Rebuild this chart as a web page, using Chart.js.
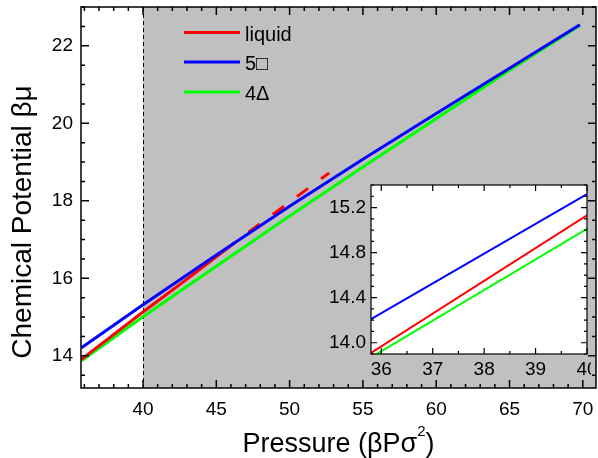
<!DOCTYPE html>
<html>
<head>
<meta charset="utf-8">
<script src="https://cdn.jsdelivr.net/npm/chart.js@4.4.0/dist/chart.umd.min.js"></script>
<style>
  body { margin: 0; background: #fff; }
  #wrap { position: relative; width: 598px; height: 458px; }
  #main { position: absolute; left: 0; top: 0; }
  #inset { position: absolute; left: 321px; top: 178px; }
</style>
</head>
<body>
<div id="wrap">
  <canvas id="main" width="598" height="458"></canvas>
  <canvas id="inset" width="270" height="205"></canvas>
</div>
<script>
// values
const pressure = [35.8, 40, 45, 50, 55, 60, 65, 69.8];
const mu5 = [14.21, 15.32, 16.6, 17.86, 19.07, 20.25, 21.42, 22.54];
const mu4 = [13.87, 15.01, 16.31, 17.61, 18.87, 20.12, 21.37, 22.52];
const liquidP = [35.8, 40, 43, 46.3];
const liquidMu = [13.91, 15.13, 15.98, 16.93];
const liquidDashP = [47.2, 52.7];
const liquidDashMu = [17.19, 18.72];

const xTicks = [40, 45, 50, 55, 60, 65, 70];
const yTicks = [14, 16, 18, 20, 22];
const insetXTicks = [36, 37, 38, 39, 40];
const insetYTicks = [14.0, 14.4, 14.8, 15.2];

const FONT = "'Liberation Sans', Arial, sans-serif";
const pts = (xs, ys) => xs.map((x, i) => ({ x: x, y: ys[i] }));

function range(a, b, step) {
  const out = [];
  for (let v = a; v <= b + 1e-9; v += step) out.push(Math.round(v * 1000) / 1000);
  return out;
}

function noPad(s) {
  s.paddingTop = 0; s.paddingBottom = 0; s.paddingLeft = 0; s.paddingRight = 0;
}

// inward ticks on all four sides plus the box
function tickFrame(xMajor, xMinor, yMajor, yMinor, majLen, minLen, lw) {
  return {
    id: "tickFrame",
    afterDatasetsDraw(chart) {
      const { ctx, chartArea: a, scales: { x, y } } = chart;
      ctx.save();
      ctx.strokeStyle = "#000";
      ctx.lineWidth = lw;
      ctx.beginPath();
      const xt = (vals, len) => vals.forEach(v => {
        const px = x.getPixelForValue(v);
        if (px < a.left - 0.5 || px > a.right + 0.5) return;
        ctx.moveTo(px, a.bottom); ctx.lineTo(px, a.bottom - len);
        ctx.moveTo(px, a.top); ctx.lineTo(px, a.top + len);
      });
      const yt = (vals, len) => vals.forEach(v => {
        const py = y.getPixelForValue(v);
        if (py < a.top - 0.5 || py > a.bottom + 0.5) return;
        ctx.moveTo(a.left, py); ctx.lineTo(a.left + len, py);
        ctx.moveTo(a.right, py); ctx.lineTo(a.right - len, py);
      });
      xt(xMinor, minLen); xt(xMajor, majLen);
      yt(yMinor, minLen); yt(yMajor, majLen);
      ctx.stroke();
      ctx.strokeRect(a.left, a.top, a.right - a.left, a.bottom - a.top);
      ctx.restore();
    }
  };
}

const shade = {
  id: "shade",
  beforeDatasetsDraw(chart) {
    const { ctx, chartArea: a, scales: { x } } = chart;
    const x40 = x.getPixelForValue(40);
    ctx.save();
    ctx.fillStyle = "#c0c0c0";
    ctx.fillRect(x40, a.top, a.right - x40, a.bottom - a.top);
    ctx.strokeStyle = "#000";
    ctx.lineWidth = 1;
    ctx.setLineDash([4, 3]);
    ctx.beginPath();
    ctx.moveTo(x40 + 0.5, a.top);
    ctx.lineTo(x40 + 0.5, a.bottom);
    ctx.stroke();
    ctx.restore();
  }
};

const legendAndTitles = {
  id: "legendAndTitles",
  afterDraw(chart) {
    const { ctx, chartArea: a } = chart;
    ctx.save();
    // legend
    const items = [["liquid", "#ff0000", 32.5, 40.5], ["5\u25A1", "#0000ff", 62, 70], ["4\u0394", "#00ff00", 92, 100]];
    ctx.font = "20px " + FONT;
    ctx.fillStyle = "#000";
    items.forEach(([txt, col, ly, by]) => {
      ctx.strokeStyle = col;
      ctx.lineWidth = 3;
      ctx.beginPath();
      ctx.moveTo(184, ly); ctx.lineTo(240, ly);
      ctx.stroke();
      ctx.fillText(txt, 245, by);
    });
    // x title with superscript
    const big = "27px " + FONT, small = "15px " + FONT;
    ctx.font = big;
    const p1 = "Pressure (\u03B2P\u03C3", p3 = ")";
    const w1 = ctx.measureText(p1).width, w3 = ctx.measureText(p3).width;
    ctx.font = small;
    const w2 = ctx.measureText("2").width;
    let sx = (a.left + a.right) / 2 - (w1 + w2 + w3) / 2;
    const by = 452;
    ctx.font = big; ctx.fillText(p1, sx, by);
    ctx.font = small; ctx.fillText("2", sx + w1, by - 16);
    ctx.font = big; ctx.fillText(p3, sx + w1 + w2, by);
    // y title
    ctx.translate(31, 222);
    ctx.rotate(-Math.PI / 2);
    ctx.font = "28px " + FONT;
    ctx.textAlign = "center";
    ctx.fillText("Chemical Potential \u03B2\u03BC", 0, 0);
    ctx.restore();
  }
};

new Chart(document.getElementById("main"), {
  type: "line",
  data: {
    datasets: [
      { label: "liquid", data: pts(liquidP, liquidMu), borderColor: "#ff0000", borderWidth: 3, pointRadius: 0, order: 1 },
      { label: "liquid (dashed)", data: pts(liquidDashP, liquidDashMu), borderColor: "#ff0000", borderWidth: 3, borderDash: [14, 16], pointRadius: 0, order: 1 },
      { label: "5\u25A1", data: pts(pressure, mu5), borderColor: "#0000ff", borderWidth: 3, pointRadius: 0, order: 0 },
      { label: "4\u0394", data: pts(pressure, mu4), borderColor: "#00ff00", borderWidth: 3, pointRadius: 0, order: 2 }
    ]
  },
  options: {
    responsive: false,
    animation: false,
    layout: { padding: { top: 7, right: 2, left: 0, bottom: 0 } },
    plugins: { legend: { display: false }, tooltip: { enabled: false } },
    scales: {
      x: {
        type: "linear", min: 35.77, max: 70.9,
        grid: { display: false, drawTicks: false },
        border: { display: false },
        afterBuildTicks(s) { s.ticks = xTicks.map(v => ({ value: v })); },
        afterFit(s) { s.height = 70; noPad(s); },
        ticks: { autoSkip: false, maxRotation: 0, padding: 10, color: "#000", font: { family: FONT, size: 19 } }
      },
      y: {
        type: "linear", min: 13.17, max: 23.0,
        grid: { display: false, drawTicks: false },
        border: { display: false },
        afterBuildTicks(s) { s.ticks = yTicks.map(v => ({ value: v })); },
        afterFit(s) { s.width = 81; noPad(s); },
        ticks: { autoSkip: false, padding: 8, color: "#000", font: { family: FONT, size: 19 } }
      }
    }
  },
  plugins: [shade, tickFrame(xTicks, range(36, 70, 1), yTicks, range(13.5, 23, 0.5), 8, 4, 1.5), legendAndTitles]
});

const whiteBox = {
  id: "whiteBox",
  beforeDatasetsDraw(chart) {
    const { ctx, chartArea: a } = chart;
    ctx.save();
    ctx.fillStyle = "#fff";
    ctx.fillRect(a.left, a.top, a.right - a.left, a.bottom - a.top);
    ctx.restore();
  }
};

new Chart(document.getElementById("inset"), {
  type: "line",
  data: {
    datasets: [
      { label: "liquid", data: pts(liquidP, liquidMu), borderColor: "#ff0000", borderWidth: 2, pointRadius: 0 },
      { label: "5\u25A1", data: pts(pressure, mu5), borderColor: "#0000ff", borderWidth: 2, pointRadius: 0 },
      { label: "4\u0394", data: pts(pressure, mu4), borderColor: "#00ff00", borderWidth: 2, pointRadius: 0 }
    ]
  },
  options: {
    responsive: false,
    animation: false,
    layout: { padding: { top: 7, right: 4, left: 0, bottom: 0 } },
    plugins: { legend: { display: false }, tooltip: { enabled: false } },
    scales: {
      x: {
        type: "linear", min: 35.8, max: 40,
        grid: { display: false, drawTicks: false },
        border: { display: false },
        afterBuildTicks(s) { s.ticks = insetXTicks.map(v => ({ value: v })); },
        afterFit(s) { s.height = 29; noPad(s); },
        ticks: { autoSkip: false, maxRotation: 0, padding: 4, color: "#000", font: { family: FONT, size: 19 } }
      },
      y: {
        type: "linear", min: 13.9, max: 15.4,
        grid: { display: false, drawTicks: false },
        border: { display: false },
        afterBuildTicks(s) { s.ticks = insetYTicks.map(v => ({ value: v })); },
        afterFit(s) { s.width = 50; noPad(s); },
        ticks: { autoSkip: false, padding: 5, color: "#000", font: { family: FONT, size: 19 }, callback: v => Number(v).toFixed(1) }
      }
    }
  },
  plugins: [whiteBox, tickFrame(insetXTicks, range(36, 40, 0.5), insetYTicks, range(13.9, 15.4, 0.1), 6, 3, 1.2)]
});
</script>
</body>
</html>
